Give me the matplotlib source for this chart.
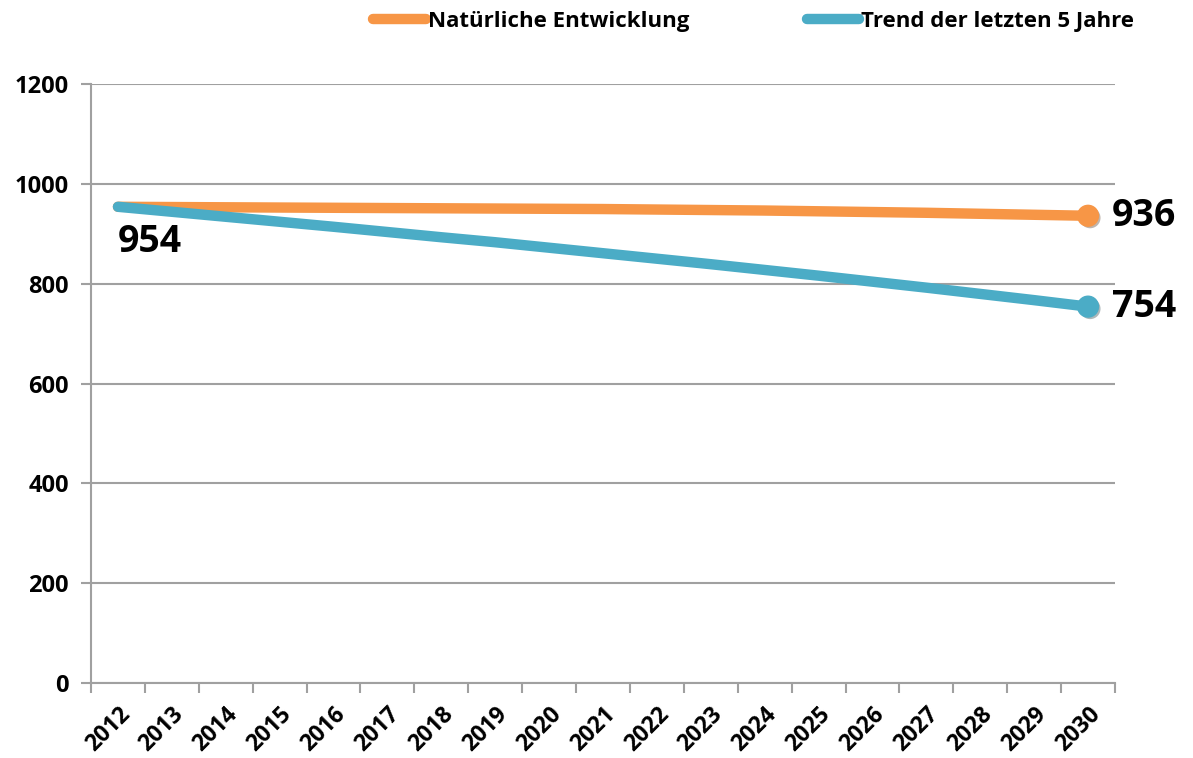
import matplotlib.pyplot as plt
import matplotlib.patheffects as pe

years = [str(y) for y in range(2012, 2031)]
natuerlich = [954, 953.5, 953, 952.5, 952, 951.5, 951, 950.5, 950, 949.5,
              948.5, 947.5, 946.5, 945, 943.5, 942, 940, 938, 936]
trend = [954, 944, 934, 924, 914, 903.5, 893, 883, 872, 861,
         850, 839, 827.5, 816, 804, 792, 779.5, 767, 754]
y_ticks = [0, 200, 400, 600, 800, 1000, 1200]

plt.rcParams['font.family'] = ['Open Sans', 'DejaVu Sans']
plt.rcParams['font.weight'] = 'bold'

orange = '#F79646'
blue = '#4BACC6'
grey = '#A0A0A0'

fig = plt.figure(figsize=(11.93, 7.58), dpi=100)
ax = fig.add_axes([0.0763, 0.0989, 0.8583, 0.7903])

x = list(range(len(years)))
shadow = [pe.SimplePatchShadow(offset=(1.5, -1.5), alpha=0.35), pe.Normal()]

ax.plot(x, natuerlich, color=orange, lw=7.5, solid_capstyle='round',
        label='Natürliche Entwicklung', zorder=3)
ax.plot(x, trend, color=blue, lw=7.5, solid_capstyle='round',
        label='Trend der letzten 5 Jahre', zorder=4)
ax.plot(x[-1], natuerlich[-1], 'o', color=orange, ms=15, zorder=5,
        path_effects=shadow)
ax.plot(x[-1], trend[-1], 'o', color=blue, ms=15, zorder=5,
        path_effects=shadow)

# data labels
ax.annotate(str(trend[0]), (x[0], trend[0]), xytext=(0, -12),
            textcoords='offset points', ha='left', va='top',
            fontsize=27, fontweight='bold')
ax.annotate(str(natuerlich[-1]), (x[-1], natuerlich[-1]), xytext=(17, 0),
            textcoords='offset points', ha='left', va='center',
            fontsize=27, fontweight='bold')
ax.annotate(str(trend[-1]), (x[-1], trend[-1]), xytext=(17, 0),
            textcoords='offset points', ha='left', va='center',
            fontsize=27, fontweight='bold')

ax.set_xlim(-0.5, len(years) - 0.5)
ax.set_ylim(0, 1200)
ax.set_yticks(y_ticks)
ax.set_yticklabels([str(v) for v in y_ticks], fontsize=17, fontweight='bold')
ax.yaxis.grid(True, color=grey, lw=1.5)
ax.set_axisbelow(True)

ax.set_xticks(x)
ax.set_xticklabels(years, rotation=45, ha='right', rotation_mode='anchor',
                   fontsize=16.5, fontweight='bold')
ax.set_xticks([i - 0.5 for i in range(len(years) + 1)], minor=True)
ax.tick_params(axis='x', which='major', length=0, pad=14)
ax.tick_params(axis='x', which='minor', length=7, color=grey, width=1.5)
ax.tick_params(axis='y', length=7, color=grey, width=1.5, pad=9)

for side in ['top', 'right']:
    ax.spines[side].set_visible(False)
for side in ['left', 'bottom']:
    ax.spines[side].set_color(grey)
    ax.spines[side].set_linewidth(1.5)

leg = fig.legend(loc='center', bbox_to_anchor=(0.632, 0.972), ncol=2,
                 frameon=False, handlelength=2.35,
                 handletextpad=0.1, columnspacing=5.3,
                 prop={'weight': 'bold', 'size': 16})
for line in leg.get_lines():
    line.set_linewidth(7.5)
    line.set_solid_capstyle('round')

fig.savefig('out.png', dpi=100)
